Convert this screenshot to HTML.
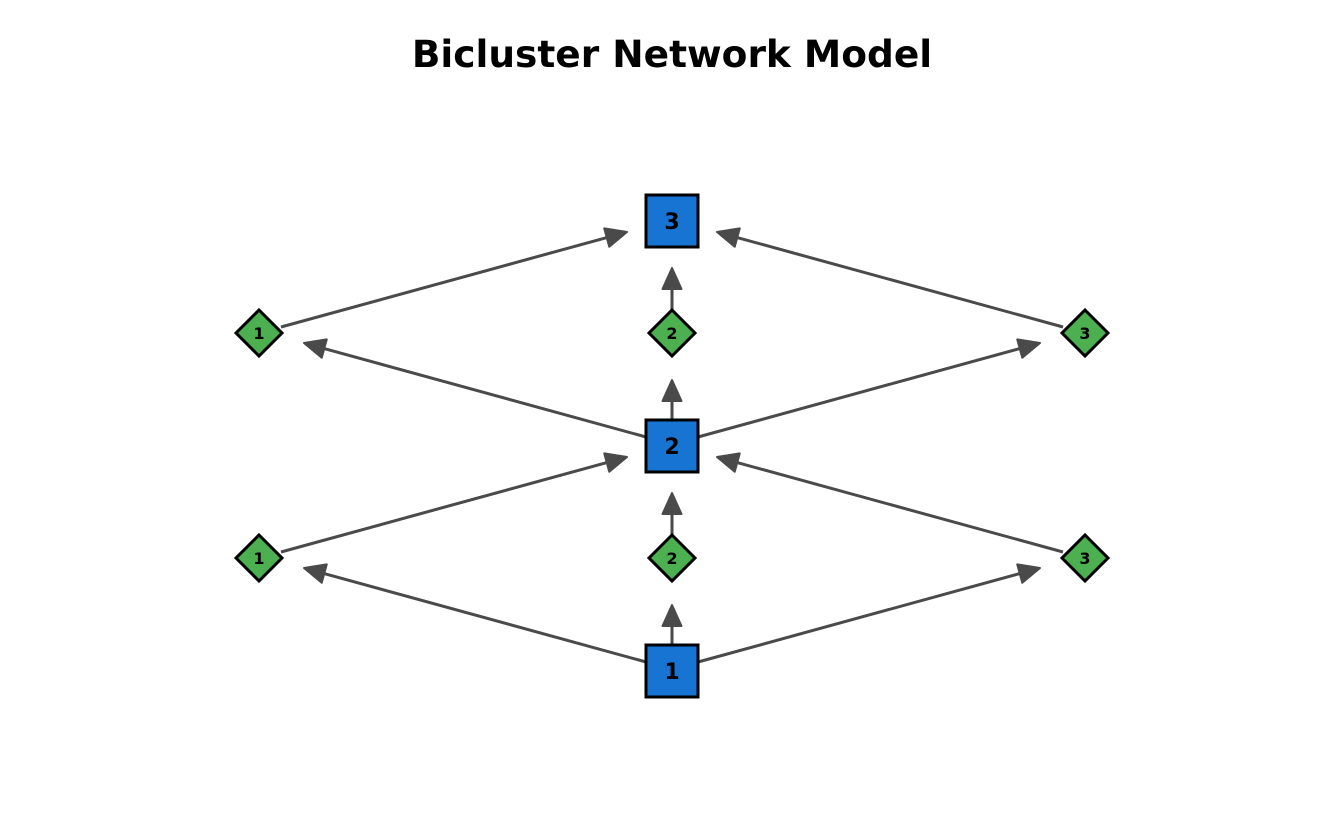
<!DOCTYPE html>
<html><head><style>
html,body{margin:0;padding:0;background:#fff;}
svg{display:block;}
text{font-family:"DejaVu Sans","Liberation Sans",sans-serif;font-weight:bold;}
</style></head><body>
<svg id="s" width="1344" height="830" viewBox="0 0 1344 830" xmlns="http://www.w3.org/2000/svg">
<text x="672" y="67" font-size="37.5" text-anchor="middle" fill="#000">Bicluster Network Model</text>
<g id="edges"></g>
<g fill="#1874d2" stroke="#000" stroke-width="3">
<rect x="646" y="195" width="52" height="52"/>
<rect x="646" y="420" width="52" height="52"/>
<rect x="646" y="645" width="52" height="52"/>
</g>
<g fill="#4caf50" stroke="#000" stroke-width="3">
<polygon points="259,310 282,333 259,356 236,333"/>
<polygon points="672,310 695,333 672,356 649,333"/>
<polygon points="1085,310 1108,333 1085,356 1062,333"/>
<polygon points="259,535 282,558 259,581 236,558"/>
<polygon points="672,535 695,558 672,581 649,558"/>
<polygon points="1085,535 1108,558 1085,581 1062,558"/>
</g>
<g font-size="22" text-anchor="middle" fill="#000">
<text x="672" y="229">3</text>
<text x="672" y="454">2</text>
<text x="672" y="679">1</text>
</g>
<g font-size="16" text-anchor="middle" fill="#000">
<text x="259" y="339">1</text>
<text x="672" y="339">2</text>
<text x="1085" y="339">3</text>
<text x="259" y="564">1</text>
<text x="672" y="564">2</text>
<text x="1085" y="564">3</text>
</g>
</svg>
<script>
var E=[[281,327,627,232],[1063,327,717,232],[672,310,672,268],[646,437,304,343],[698,437,1040,343],[672,420,672,380],
[281,552,627,457],[1063,552,717,457],[672,535,672,493],[646,662,304,568],[698,662,1040,568],[672,645,672,605]];
var g=document.getElementById('edges'),h='';
E.forEach(function(e){var dx=e[2]-e[0],dy=e[3]-e[1],L=Math.sqrt(dx*dx+dy*dy),ux=dx/L,uy=dy/L,px=-uy,py=ux;
var len=21,w=9.5,bx=e[2]-ux*len,by=e[3]-uy*len;
h+='<line x1="'+e[0]+'" y1="'+e[1]+'" x2="'+(bx+ux*2)+'" y2="'+(by+uy*2)+'" stroke="#4a4a4a" stroke-width="3"/>';
h+='<polygon points="'+e[2]+','+e[3]+' '+(bx+px*w)+','+(by+py*w)+' '+(bx-px*w)+','+(by-py*w)+'" fill="#4a4a4a" stroke="#4a4a4a" stroke-width="2" stroke-linejoin="round"/>';});
g.innerHTML=h;
</script>
</body></html>
